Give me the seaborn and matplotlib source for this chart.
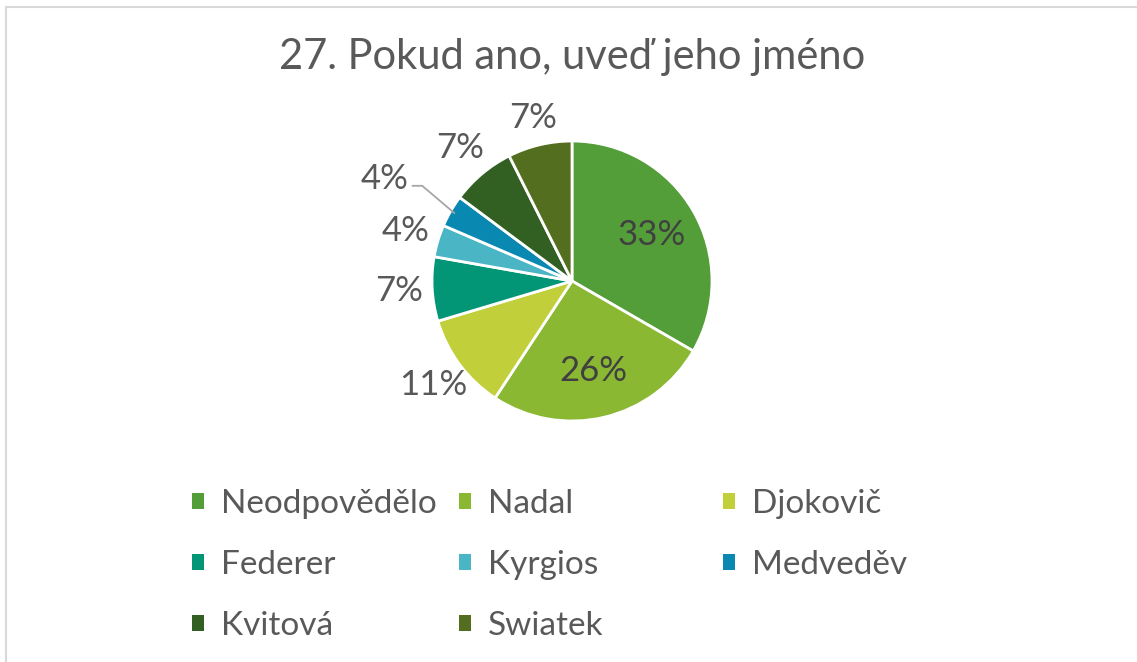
import numpy as np
import seaborn as sns
import matplotlib.pyplot as plt
from matplotlib.lines import Line2D
from matplotlib.patches import Patch

# Data (27 respondents)
names = ["Neodpovědělo", "Nadal", "Djokovič", "Federer", "Kyrgios", "Medveděv", "Kvitová", "Swiatek"]
counts = [9, 7, 3, 2, 1, 1, 2, 2]
colors = ["#549E39", "#8AB833", "#C0CF3A", "#029676", "#4AB5C4", "#0989B1", "#325F22", "#536E1F"]
title = "27. Pokud ano, uveď jeho jméno"

sns.set_theme(style="white")
plt.rcParams["font.family"] = ["Lato", "DejaVu Sans"]
txt = "#595959"

W, H = 1137, 662
fig = plt.figure(figsize=(W / 100, H / 100), dpi=100)

# pie axes: centre (572, 281) px, radius 140 px
cx, cy, r = 572, 281, 140
ax = fig.add_axes([(cx - r) / W, (H - cy - r) / H, 2 * r / W, 2 * r / H])
pal = sns.color_palette(colors)
total = sum(counts)
wedges, _ = ax.pie(counts, colors=pal, startangle=90, counterclock=False,
                   wedgeprops=dict(edgecolor="white", linewidth=2))
ax.set_xlim(-1, 1)
ax.set_ylim(-1, 1)
ax.set_aspect("equal")
ax.axis("off")

for i, (w, c) in enumerate(zip(wedges, counts)):
    pct = f"{round(100 * c / total)}%"
    mid = np.deg2rad((w.theta1 + w.theta2) / 2)
    if c / total > 0.2:
        d = 0.66
        ax.text(d * np.cos(mid), d * np.sin(mid), pct, ha="center", va="center",
                fontsize=25, color="#404040")
    elif names[i] == "Medveděv":
        # small blue wedge label pulled out with a leader line
        lx, ly = -1.34, 0.73
        ex, ey = 0.97 * np.cos(mid), 0.97 * np.sin(mid)
        ax.plot([lx + 0.2, lx + 0.27, ex], [ly - 0.05, ly - 0.05, ey], color="#A6A6A6", lw=1.3, clip_on=False)
        ax.text(lx, ly, pct, ha="center", va="center", fontsize=25, color=txt)
    else:
        d = 1.24 if names[i] != "Swiatek" else 1.2
        ax.text(d * np.cos(mid), d * np.sin(mid), pct, ha="center", va="center",
                fontsize=25, color=txt)

fig.text(cx / W, 1 - 57 / H, title, ha="center", va="center", fontsize=30, color=txt)

# legend in three equal columns, row-major order
col_x = [192, 459, 723]
for col in range(3):
    idx = list(range(col, len(names), 3))
    handles = [Patch(facecolor=pal[i], edgecolor="none") for i in idx]
    fig.legend(handles, [names[i] for i in idx], loc="upper left",
               bbox_to_anchor=(col_x[col] / W, 1 - 489 / H), frameon=False,
               fontsize=24, labelcolor=txt, handlelength=0.36, handleheight=0.36,
               handletextpad=0.5, labelspacing=0.93, borderpad=0, borderaxespad=0)

# thin grey frame (top and left edges visible)
fig.add_artist(Line2D([5.5 / W, 1], [1 - 6.5 / H, 1 - 6.5 / H], color="#D9D9D9", lw=1.5))
fig.add_artist(Line2D([5.5 / W, 5.5 / W], [0, 1 - 6.5 / H], color="#D9D9D9", lw=1.5))

fig.savefig("out.png", dpi=100, facecolor="white")
